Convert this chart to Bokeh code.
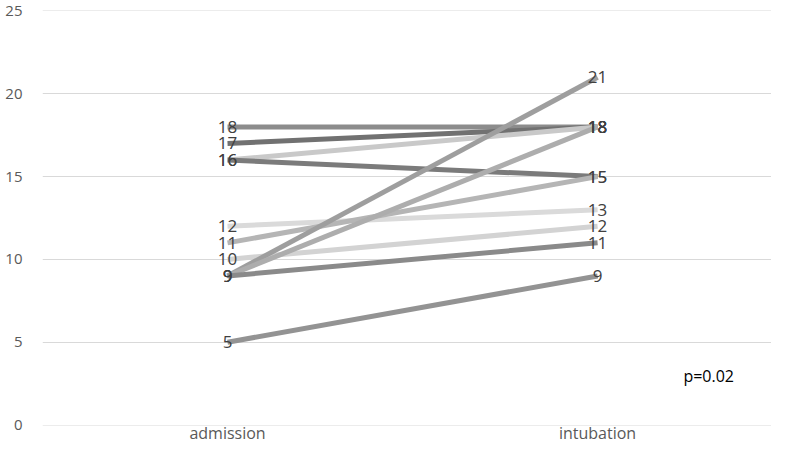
from bokeh.plotting import figure
from bokeh.models import Range1d, FixedTicker, Label, ColumnDataSource
from bokeh.core.properties import value
from bokeh.embed import file_html
from bokeh.resources import INLINE

categories = ["admission", "intubation"]
admission = [18, 17, 16, 16, 12, 11, 10, 9, 9, 9, 5]
intubation = [18, 18, 18, 15, 13, 15, 12, 21, 18, 11, 9]
line_colors = ["#8c8c8c", "#717171", "#c9c9c9", "#7b7b7b", "#dadada", "#b5b5b5",
               "#d3d3d3", "#9e9e9e", "#adadad", "#8a8a8a", "#939393"]
y_ticks = [0, 5, 10, 15, 20, 25]
p_text = "p=0.02"

FONT = "Open Sans"
cat_pos = list(range(len(categories)))  # positions of the categories on the x scale

p = figure(width=771, height=446, output_backend="svg", toolbar_location=None,
           x_range=Range1d(-0.5, 1.47), y_range=Range1d(-0.03, 25.03),
           min_border_left=42, min_border_right=0, min_border_top=10, min_border_bottom=20)
p.outline_line_color = None
p.background_fill_color = "white"
p.border_fill_color = "white"

# axes
p.xaxis.ticker = FixedTicker(ticks=cat_pos)
p.xaxis.major_label_overrides = {i: c for i, c in zip(cat_pos, categories)}
p.xaxis.axis_line_color = None
p.xaxis.major_tick_line_color = None
p.xaxis.minor_tick_line_color = None
p.xaxis.major_tick_out = 0
p.xaxis.major_tick_in = 0
p.xaxis.major_label_standoff = -4
p.xaxis.axis_label_standoff = 0
p.xaxis.major_label_text_font = FONT
p.xaxis.major_label_text_font_size = "16px"
p.xaxis.major_label_text_color = "#595959"
p.xgrid.grid_line_color = None

p.yaxis.axis_line_color = None
p.yaxis.major_tick_line_color = None
p.yaxis.minor_tick_line_color = None
p.yaxis.major_tick_out = 0
p.yaxis.major_tick_in = 0
p.yaxis.major_label_standoff = 20
p.yaxis.ticker = FixedTicker(ticks=y_ticks)
p.yaxis.major_label_text_font = FONT
p.yaxis.major_label_text_font_size = "15px"
p.yaxis.major_label_text_color = "#595959"
p.ygrid.ticker = FixedTicker(ticks=y_ticks)
p.ygrid.grid_line_color = "#d9d9d9"
p.ygrid.grid_line_width = 1

xs = [[cat_pos[0], cat_pos[1]] for _ in admission]
ys = [[a, b] for a, b in zip(admission, intubation)]
src = ColumnDataSource(dict(xs=xs, ys=ys, color=line_colors))
p.multi_line(xs="xs", ys="ys", line_color="color", line_width=5, source=src)

lx = [cat_pos[0]] * len(admission) + [cat_pos[1]] * len(intubation)
ly = admission + intubation
lt = [str(v) for v in ly]
p.text(x=lx, y=ly, text=lt, text_align="center", text_baseline="middle",
       text_font=value(FONT), text_font_size="17px", text_color="#404040")

p.add_layout(Label(x=1.232, y=2.94, text=p_text, text_align="left", text_baseline="middle",
                   text_font=FONT, text_font_size="16px", text_color="#000000"))

open("out.html", "w").write(file_html(p, INLINE))
